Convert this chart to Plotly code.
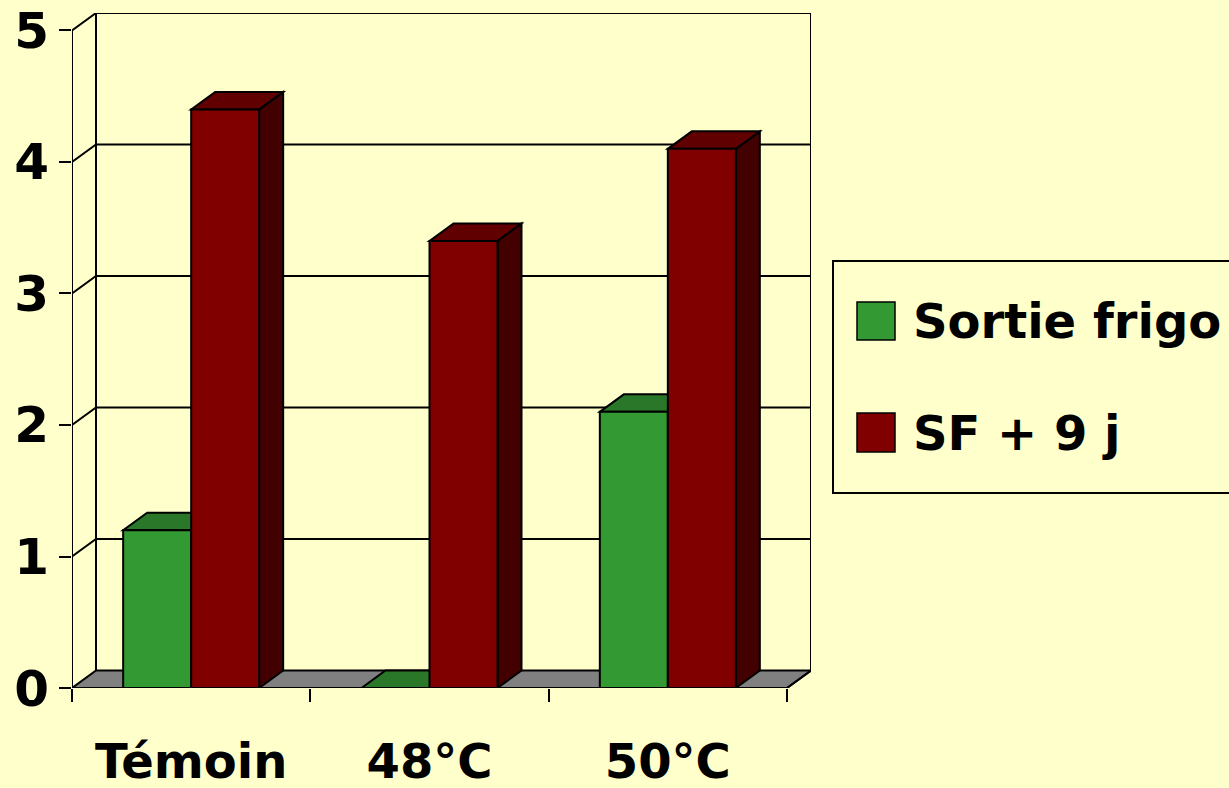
import plotly.graph_objects as go

# ---- data ----
categories = ["Témoin", "48°C", "50°C"]
series_names = ["Sortie frigo", "SF + 9 j"]
sortie_frigo = [1.2, 0.0, 2.1]
sf_9j = [4.4, 3.4, 4.1]
y_ticks = [0, 1, 2, 3, 4, 5]

# ---- styling / geometry ----
W, H = 1229, 788
L, R, T, B = 72, 811, 13, 688           # plot area in pixels
PX_PER_X = (787 - 72) / 3.0
PX_PER_Y = (688 - 30) / 5.0
DX = 24 / PX_PER_X                      # 3D depth offset in data units
DY = 17.5 / PX_PER_Y
BAR_W = 68 / PX_PER_X
XMIN, XMAX = -0.5, 2.5
YMAX = 5
FONT = "DejaVu Sans"
BG = "#FFFFCC"
LW = 2

front_cols = ["#339933", "#800000"]
top_cols = ["#2A772A", "#600000"]
side_cols = ["#1E5A1E", "#420000"]

xs = list(range(len(categories)))
series = [sortie_frigo, sf_9j]
offsets = [-BAR_W, 0.0]

fig = go.Figure()
for s, vals in enumerate(series):
    fig.add_trace(go.Bar(
        x=xs, y=vals, name=series_names[s], width=BAR_W, offset=offsets[s],
        marker=dict(color=front_cols[s], line=dict(color="black", width=LW)),
        showlegend=False, hoverinfo="x+y+name",
    ))

shapes = []
line_k = dict(color="black", width=LW)

shapes.append(dict(type="path", xref="x", yref="y", layer="below",
                   path=f"M{XMIN},0 L{XMAX},0 L{XMAX+DX},{DY} L{XMIN+DX},{DY} Z",
                   fillcolor="#808080", line=line_k))
for v in y_ticks[1:]:
    shapes.append(dict(type="path", xref="x", yref="y", layer="below",
                       path=f"M{XMIN},{v} L{XMIN+DX},{v+DY} L{XMAX+DX},{v+DY}",
                       line=line_k))
for xv in (XMIN + DX, XMAX + DX):
    shapes.append(dict(type="line", xref="x", yref="y", layer="below",
                       x0=xv, x1=xv, y0=DY, y1=YMAX + DY, line=line_k))
shapes.append(dict(type="line", xref="x", yref="y", layer="below",
                   x0=XMAX, y0=0, x1=XMAX + DX, y1=DY, line=line_k))

for i in xs:
    for s, vals in enumerate(series):
        v = vals[i]
        x0 = i + offsets[s]
        x1 = x0 + BAR_W
        shapes.append(dict(type="path", xref="x", yref="y", layer="below",
                           path=f"M{x1},0 L{x1},{v} L{x1+DX},{v+DY} L{x1+DX},{DY} Z",
                           fillcolor=side_cols[s], line=line_k))
        shapes.append(dict(type="path", xref="x", yref="y", layer="below",
                           path=f"M{x0},{v} L{x1},{v} L{x1+DX},{v+DY} L{x0+DX},{v+DY} Z",
                           fillcolor=top_cols[s], line=line_k))

shapes.append(dict(type="line", xref="x", yref="y", x0=XMIN, x1=XMIN, y0=0, y1=YMAX, line=line_k))
shapes.append(dict(type="line", xref="x", yref="y", x0=XMIN, x1=XMAX, y0=0, y1=0, line=line_k))

# ---- manual legend (paper coords from pixels) ----
def px_x(p):
    return (p - L) / (R - L)

def px_y(p):
    return (B - p) / (B - T)

shapes.append(dict(type="rect", xref="paper", yref="paper",
                   x0=px_x(833), x1=px_x(1250), y0=px_y(493), y1=px_y(261),
                   fillcolor=BG, line=line_k))
annotations = []
legend_rows = [(302, 340), (413, 452)]
for s, (ya, yb) in enumerate(legend_rows):
    shapes.append(dict(type="rect", xref="paper", yref="paper",
                       x0=px_x(857), x1=px_x(895), y0=px_y(yb), y1=px_y(ya),
                       fillcolor=front_cols[s], line=dict(color="black", width=1.5)))
    annotations.append(dict(xref="paper", yref="paper", x=px_x(911), y=px_y((ya + yb) / 2),
                            xanchor="left", yanchor="middle", showarrow=False,
                            text=f"<b>{series_names[s]}</b>",
                            font=dict(family=FONT, size=48, color="black")))

fig.update_layout(
    width=W, height=H,
    margin=dict(l=L, r=W - R, t=T, b=H - B, pad=0),
    paper_bgcolor=BG, plot_bgcolor=BG,
    barmode="group",
    shapes=shapes, annotations=annotations,
    showlegend=False,
    xaxis=dict(range=[XMIN, XMAX + DX], tickvals=[-0.5, 0.5, 1.5, 2.5], ticktext=["", "", "", ""],
               ticks="outside", ticklen=13, tickwidth=LW, tickcolor="black", automargin=False,
               showgrid=False, zeroline=False, showline=False, fixedrange=True),
    xaxis2=dict(overlaying="x", anchor="y", side="bottom", matches="x", automargin=False,
                tickvals=xs, ticktext=[f"<b>{c}</b>" for c in categories],
                ticks="", ticklabelstandoff=41, ticklabeloverflow="allow",
                tickfont=dict(family=FONT, size=48, color="black"),
                showgrid=False, zeroline=False, showline=False),
    yaxis=dict(range=[0, YMAX + DY], tickvals=y_ticks, ticktext=[f"<b>{v}</b>" for v in y_ticks],
               ticks="outside", ticklen=12, tickwidth=LW, tickcolor="black", automargin=False,
               ticklabelstandoff=0, ticklabeloverflow="allow",
               tickfont=dict(family=FONT, size=50, color="black"),
               showgrid=False, zeroline=False, showline=False, fixedrange=True),
)
fig.add_trace(go.Scatter(x=[0], y=[0], xaxis="x2", yaxis="y", mode="markers",
                         marker=dict(opacity=0), showlegend=False, hoverinfo="skip"))

fig.write_html(
    "out.html",
    config={"displayModeBar": False},
    post_script="document.body.style.margin='0';document.body.style.overflow='hidden';",
)
